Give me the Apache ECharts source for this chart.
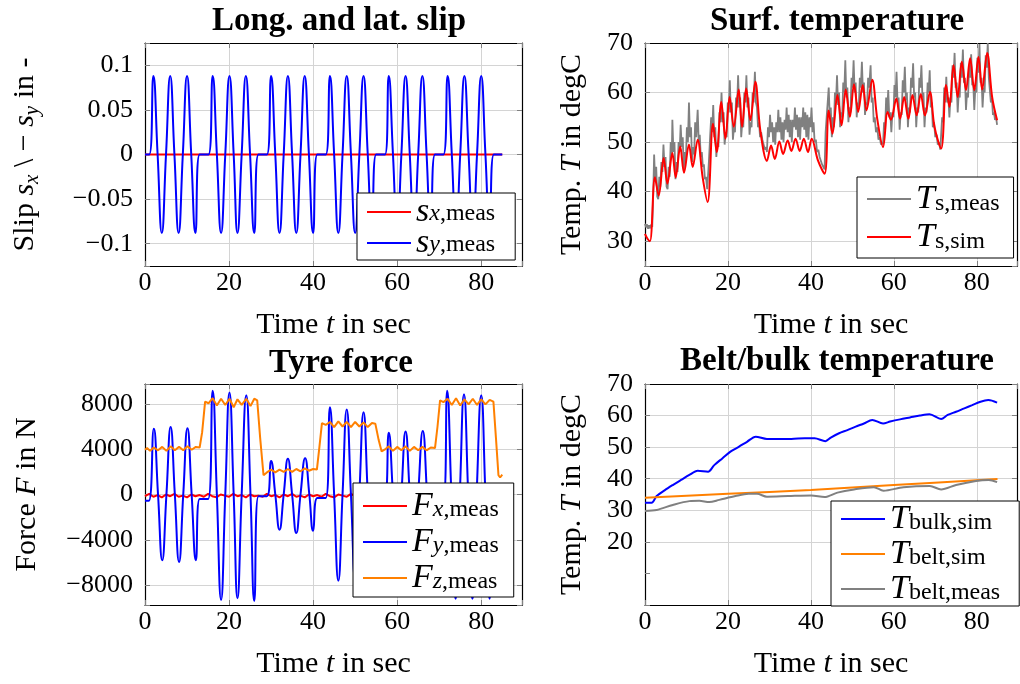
<!DOCTYPE html>
<html><head><meta charset="utf-8">
<script src="https://cdn.jsdelivr.net/npm/echarts@6/dist/echarts.min.js"></script>
<style>html,body{margin:0;padding:0;background:#fff}#c{width:1020px;height:684px}</style>
</head><body><div id="c"></div>
<script>
// ---------- data ----------
const titles = ['Long. and lat. slip', 'Surf. temperature', 'Tyre force', 'Belt/bulk temperature'];
const xTickLabels = [0, 20, 40, 60, 80];

// Panel 1: slip
const sxMeas = [[0,0],[85,0]];
const syMeas = [[0,0],[1.0,0],[2.0,0.088],[3.0,0],[4.0,-0.088],[5.0,0],[6.0,0.088],[7.0,0],[8.0,-0.088],[9.0,0],[10.0,0.088],[11.0,0],[12.0,-0.088],[13.0,0],[15.1,0],
[16.1,0.088],[17.1,0],[18.1,-0.088],[19.1,0],[20.1,0.088],[21.1,0],[22.0,-0.088],[23.0,0],[24.0,0.088],[25.0,0],[26.0,-0.088],[27.0,0],[29.0,0],
[30.0,0.088],[31.0,0],[32.0,-0.088],[33.0,0],[34.0,0.088],[35.0,0],[36.0,-0.088],[37.0,0],[38.0,0.088],[39.0,0],[40.0,-0.088],[41.0,0],[43.0,0],
[44.0,0.088],[45.0,0],[46.0,-0.088],[47.0,0],[48.0,0.088],[49.0,0],[50.0,-0.088],[51.0,0],[52.0,0.088],[53.0,0],[54.0,-0.088],[55.0,0],[57.1,0],
[58.0,0.088],[59.0,0],[60.0,-0.088],[61.0,0],[62.0,0.088],[63.0,0],[64.0,-0.088],[65.0,0],[66.0,0.088],[67.0,0],[68.0,-0.088],[69.0,0],[71.0,0],
[72.0,0.088],[73.0,0],[74.0,-0.088],[75.0,0],[76.0,0.088],[77.0,0],[78.0,-0.088],[79.0,0],[80.0,0.088],[81.0,0],[82.0,-0.088],[83.0,0],[85.0,0]];

// Panel 2: surface temperature
const tsMeas = [[0,33.5],[0.25,32.8],[0.5,33.4],[0.75,32.5],[1.0,33.2],[1.25,32.6],[1.5,33.4],[1.75,32.9],
[2.0,40],[2.2,47.5],[2.45,42],[2.7,45],[2.95,39],[3.2,38.5],[3.45,43],[3.7,41],[3.95,46],[4.2,44],[4.45,49.5],[4.7,45],[4.95,47],[5.2,41],[5.45,40.5],[5.7,45],[5.95,43],[6.2,50],[6.45,47],[6.6,54.5],[6.85,48],[7.1,50],[7.35,42.5],[7.6,46],[7.85,44],[8.1,50],[8.35,48],[8.6,53.5],[8.85,49],[9.1,51],[9.35,44.5],[9.6,48],[9.85,46],[10.1,53],[10.35,50],[10.6,58],[10.85,51],[11.1,53],[11.35,46],[11.6,49],[11.85,47.5],[12.1,54],[12.35,51],[12.7,56.5],[12.95,50],[13.2,51.5],[13.45,47],[13.7,48],[13.95,45],[14.2,45.5],[14.45,42.5],[14.7,43],[15.0,40.5],
[15.4,46],[15.7,51],[15.95,55],[16.2,52],[16.45,57.5],[16.7,51],[16.95,53],[17.2,47],[17.45,50],[17.7,49],[17.95,56],[18.2,54],[18.45,60],[18.7,54],[18.95,56],[19.2,49.5],[19.45,52],[19.7,51],[19.95,58],[20.2,56],[20.45,62.5],[20.7,56],[20.95,58],[21.2,50.5],[21.45,53],[21.7,52],[21.95,59],[22.2,57],[22.45,63.5],[22.7,57],[22.95,59],[23.2,51],[23.45,54],[23.7,53],[23.95,60],[24.2,58],[24.45,63.5],[24.7,57],[24.95,59],[25.2,51.5],[25.45,54],[25.7,53],[25.95,60],[26.2,58],[26.5,64.2],[26.75,58],[27.0,57],[27.25,53],[27.5,54],[27.75,51],[28.0,52],[28.3,50.5],[28.6,50.5],[28.9,48.5],[29.2,49],[29.4,48],
[29.65,53],[29.9,51],[30.15,55.5],[30.4,52],[30.65,54],[30.9,50],[31.15,53],[31.4,49.5],[31.65,54],[31.9,52],[32.15,56.5],[32.4,52],[32.65,55],[32.9,50.5],[33.15,54],[33.4,50],[33.65,54.5],[33.9,52.5],[34.15,57],[34.4,52],[34.65,55.5],[34.9,51],[35.15,54.5],[35.4,50],[35.65,54.5],[35.9,53],[36.15,57],[36.4,52.5],[36.65,55.5],[36.9,51],[37.15,55],[37.4,50.5],[37.65,55],[37.9,53],[38.15,57],[38.4,52.5],[38.65,56],[38.9,51],[39.15,55.5],[39.4,50.5],[39.65,55],[39.9,53],[40.15,57],[40.4,52],[40.65,54],[40.9,50],[41.2,50.5],[41.5,48],[41.8,48.5],[42.1,47],[42.4,47],[42.7,45.5],[43.0,45.5],[43.3,44.5],
[43.55,52],[43.8,55],[44.05,58],[44.3,61],[44.55,55],[44.8,57],[45.05,51],[45.3,55],[45.55,53],[45.8,60],[46.05,58],[46.3,63.5],[46.55,57.5],[46.8,60],[47.05,53],[47.3,56],[47.55,55],[47.8,62],[48.05,60],[48.3,66.5],[48.55,59],[48.8,61],[49.05,54],[49.3,57],[49.55,56],[49.8,63],[50.05,61],[50.3,66.5],[50.55,60],[50.8,62],[51.05,55],[51.3,58],[51.55,57],[51.8,63],[52.05,61],[52.3,66.2],[52.55,60],[52.8,62],[53.05,55.5],[53.3,58],[53.55,57.5],[53.8,63],[54.05,61],[54.4,65.5],[54.65,58],[54.9,59],[55.15,54],[55.4,55],[55.7,52],[56.0,53],[56.3,50.5],[56.6,51],[56.9,49.5],[57.2,50],[57.4,49.5],
[57.65,54],[57.9,52.5],[58.15,59],[58.4,56],[58.65,60.5],[58.9,55],[59.15,56],[59.4,52],[59.65,56],[59.9,55],[60.15,61.5],[60.4,59],[60.65,64.2],[60.9,58],[61.15,59],[61.4,52.5],[61.65,56],[61.9,55.5],[62.15,62.5],[62.4,60],[62.65,65.2],[62.9,58.5],[63.15,60],[63.4,53],[63.65,57],[63.9,56],[64.15,63],[64.4,61],[64.65,65.9],[64.9,59],[65.15,60],[65.4,53],[65.65,57],[65.9,56],[66.15,63],[66.4,61],[66.65,65.5],[66.9,59],[67.15,60],[67.4,53],[67.65,57],[67.9,56],[68.15,62],[68.4,60],[68.65,64.5],[68.9,57],[69.15,58],[69.4,53],[69.7,54],[70.0,51],[70.3,51.5],[70.6,49.5],[70.9,50],[71.2,48.5],[71.4,48.8],
[71.65,55],[71.9,54],[72.15,61],[72.4,58],[72.65,63.2],[72.9,58],[73.15,59],[73.4,55],[73.65,59],[73.9,58],[74.15,65.5],[74.4,63],[74.65,68],[74.9,61],[75.15,62],[75.4,56],[75.65,60],[75.9,59],[76.15,66],[76.4,63],[76.65,68.7],[76.9,62],[77.15,63],[77.4,56.5],[77.65,60],[77.9,59],[78.15,65.5],[78.4,63],[78.65,67.7],[78.9,61.5],[79.15,62],[79.4,56.5],[79.65,61],[79.9,60],[80.15,67],[80.4,64],[80.65,69.8],[80.9,62],[81.15,63],[81.4,57],[81.65,61],[81.9,60],[82.15,67.5],[82.4,65],[82.65,70],[82.9,63],[83.15,63],[83.4,58],[83.65,59],[83.9,55.5],[84.15,56],[84.4,54.5],[84.65,55],[84.9,53.5]];
const tsSim = [[0,31.5],[0.6,30.5],[1.2,30],[2.4,42.9],[3.3,39.2],[4.5,46.8],[5.4,41.6],[6.6,47.8],[7.4,42.9],[8.5,49.1],[9.4,43.8],[10.6,49.5],[11.5,45],[12.7,50.5],[13.9,42.9],[15.1,37.9],[16.4,53.7],[17.3,48],[18.4,58.1],[19.4,50.7],[20.4,59.1],[21.4,53.1],[22.6,60.6],[23.4,53.1],[24.4,60.8],[25.4,54.4],[26.6,62.2],[27.8,52.4],[29.4,46.2],[30.4,49.3],[31.3,46.6],[32.4,50.1],[33.3,47.6],[34.4,50.3],[35.3,48.2],[36.3,50.7],[37.3,48.2],[38.3,50.7],[39.3,48],[40.2,50.7],[41.7,46.3],[43.3,43.6],[44.3,56.4],[45.2,51.7],[46.4,59.5],[47.4,53.4],[48.4,60.6],[49.4,55.1],[50.4,61.7],[51.4,56.1],[52.5,61.5],[53.4,56.4],[54.8,62.6],[56,54.7],[57.4,49],[58.5,56.1],[59.3,54.5],[60.6,58.8],[61.5,54.7],[62.5,59.1],[63.5,54.7],[64.5,59.5],[65.5,55.4],[66.5,59.7],[67.5,55.4],[68.7,60.1],[69.8,53.1],[71.4,48.7],[72.6,61.5],[73.4,57.1],[74.4,65.5],[75.4,59.1],[76.4,66.2],[77.4,60.5],[78.4,66.9],[79.4,60.5],[80.4,67.2],[81.3,60.6],[82.5,68],[83.7,59.1],[84.9,54.4]];

// Panel 3: tyre force
const fxMeas = [[0,-150],[1,50],[2,-200],[3,-50],[4,-250],[5,0],[6,-150],[7,50],[8,-200],[9,-100],[10,-250],[11,0],[12,-150],[13,-50],[14,-200],[15,50],[16,-150],[17,-250],[18,0],[19,-100],[20,-200],[21,50],[22,-150],[23,-50],[24,-250],[25,0],[26,-150],[27,-100],[28,-200],[29,50],[30,-150],[31,-50],[32,-250],[33,0],[34,-150],[35,50],[36,-200],[37,-100],[38,-250],[39,0],[40,-150],[41,-50],[42,-200],[43,50],[44,-150],[45,-250],[46,0],[47,-100],[48,-200],[49,50],[50,-150],[51,-50],[52,-250],[53,0],[54,-150],[55,-100],[56,-200],[57,50],[58,-150],[59,-50],[60,-250],[61,0],[62,-150],[63,50],[64,-200],[65,-100],[66,-250],[67,0],[68,-150],[69,-50],[70,-200],[71,50],[72,-150],[73,-250],[74,0],[75,-100],[76,-200],[77,50],[78,-150],[79,-50],[80,-250],[81,0],[82,-150],[83,-100],[84,-200],[85,-50]];
const fyMeas = [[0,-550],[0.9,-550],[2.1,5800],[3.1,0],[4.1,-5800],[5.1,0],[6.1,5950],[7.1,0],[8.1,-5950],[9.1,0],[10.1,5850],[11.1,0],[12.1,-5800],[13.0,-400],[15.0,-400],
[16.1,9150],[17.1,0],[18.1,-9300],[19.1,0],[20.1,9000],[21.1,0],[22.0,-9150],[23.0,0],[24.1,8750],[25.1,0],[26.0,-9400],[27.0,-150],[29.0,-150],
[30.0,2950],[31.0,0],[32.0,-3100],[33.0,0],[34.0,3150],[35.0,0],[36.0,-3400],[37.0,0],[38.1,3200],[39.1,0],[40.0,-3200],[41.0,-300],[43.0,-300],
[44.0,7700],[45.0,0],[46.0,-7600],[47.0,0],[48.0,7500],[49.0,0],[50.0,-7500],[51.0,0],[52.0,7250],[53.0,0],[54.0,-7400],[55.0,-300],[57.0,-300],
[58.0,5450],[59.0,0],[60.0,-5500],[61.0,0],[62.0,5550],[63.0,0],[64.0,-5550],[65.0,0],[66.1,5600],[67.1,0],[68.0,-5600],[69.0,-300],[71.0,-300],
[71.9,9150],[72.9,0],[73.9,-9200],[74.9,0],[75.9,8850],[76.9,0],[77.9,-9200],[78.9,0],[80.0,8750],[81.0,0],[82.0,-9200],[83.0,-200],[85.0,-200]];
const fzMeas = [[0,3950],[0.5,4100],[1.2,3850],[2.1,4150],[3.1,3900],[4.1,4200],[5.1,3850],[6.1,4250],[7.1,3900],[8.1,4200],[9.1,3900],[10.1,4250],[11.1,3950],[12.1,4200],[13.0,4150],[13.6,5500],[14.3,8200],[15.1,8050],[16.1,8500],[17.1,7850],[18.1,8450],[19.1,7900],[20.1,8450],[21.1,7700],[22.0,8400],[23.0,7900],[24.1,8450],[25.1,7800],[26.0,8450],[26.7,8300],[27.4,5000],[28.2,1700],[29.0,1950],[30.0,2200],[31.0,1950],[32.0,2200],[33.0,2000],[34.0,2250],[35.0,2000],[36.0,2250],[37.0,2050],[38.0,2300],[39.0,2100],[40.0,2250],[40.9,2200],[41.5,4200],[42.1,6300],[43.0,6150],[44.0,6400],[45.0,5950],[46.0,6450],[47.0,6000],[48.0,6400],[49.0,5950],[50.0,6400],[51.0,6000],[52.0,6350],[53.0,5950],[54.0,6300],[54.8,6250],[55.6,4800],[56.3,3800],[57.0,3950],[58.0,4250],[59.0,3850],[60.0,4200],[61.0,3900],[62.0,4250],[63.0,3850],[64.0,4200],[65.0,3900],[66.0,4200],[67.0,3900],[68.0,4150],[69.0,4100],[69.6,6000],[70.2,8300],[71.0,8150],[72.0,8450],[73.0,7900],[74.0,8500],[75.0,7850],[76.0,8400],[77.0,7950],[78.0,8450],[79.0,7900],[80.0,8400],[81.0,7950],[82.0,8350],[82.9,8200],[83.5,5000],[84.1,1700],[84.5,1500],[85.0,1750]];

// Panel 4: belt / bulk temperature
const tBulkSim = [[0,32.4],[1.6,32.4],[2.8,34.5],[4.8,36.4],[6.7,38.0],[8.7,39.6],[10.7,41.2],[12.7,42.5],[15.2,42.2],[16.7,44.3],[18.7,46.5],[20.6,48.6],[22.6,50.1],[24.6,51.7],[26.7,53.3],[29.4,52.6],[32.1,52.6],[35.3,52.6],[38.5,52.8],[40.9,52.8],[43.5,51.9],[44.8,53.0],[46.8,54.4],[48.8,55.4],[50.8,56.5],[52.8,57.5],[54.8,58.6],[57.4,57.5],[59.1,58.1],[61.5,58.8],[63.9,59.4],[66.3,60.0],[68.6,60.4],[71.4,58.9],[73.0,60.2],[75.0,61.2],[77.0,62.3],[78.9,63.3],[80.9,64.4],[82.8,64.9],[84.9,64.1]];
const tBeltSim = [[0,34.0],[20,35.2],[40,36.4],[60,38.0],[85,39.9]];
const tBeltMeas = [[0,29.8],[2.8,30.1],[6.7,31.7],[10.7,32.9],[13.1,33.0],[15.5,32.6],[17.9,33.3],[21.8,34.5],[25,35.2],[27,35.2],[29.4,34.3],[34.5,34.5],[40.1,34.7],[43.3,34.2],[46.4,35.6],[50.4,36.6],[55.2,37.3],[57.5,36.2],[62.3,37.3],[68.7,37.7],[71.4,36.6],[75,38.0],[79.8,39.3],[82.9,39.6],[84.9,38.9]];

// ---------- styling ----------
const FF = 'Liberation Serif';
const GRIDC = '#d4d4d4', TICKC = '#808080';
const RED = '#ff0000', BLUE = '#0000ff', ORANGE = '#ff8000', GRAY = '#808080';
const XMAX = 89.7;
const grids = [
  {left:145, top:43, width:377, height:223},
  {left:645, top:43, width:377, height:223},
  {left:145, top:384, width:377, height:221},
  {left:645, top:384, width:377, height:221}
];
const richName = {
  i:{fontFamily:FF,fontStyle:'italic',fontSize:30,lineHeight:36,color:'#000'},
  si:{fontFamily:FF,fontStyle:'italic',fontSize:21,lineHeight:22,verticalAlign:'bottom',color:'#000'}
};
const nameStyle = {fontFamily:FF,fontSize:30,lineHeight:36,color:'#000',rich:richName};
function fmtNum(v){ const r = Math.round(v*1000)/1000; return String(r).replace('-', '\u2212'); }
function labelsAt(list){ return v => { for (const t of list) if (Math.abs(v-t) < 1e-9) return fmtNum(t); return ''; }; }

const xAxes = [], yAxes = [];
const yCfg = [
  {min:-0.125, max:0.125, step:0.05, labels:[-0.1,-0.05,0,0.05,0.1], name:'Slip {i|s}{si|x} \\ \u2212 {i|s}{si|y} in -', gap:102},
  {min:25, max:70, step:10, labels:[30,40,50,60,70], name:'Temp. {i|T} in degC', gap:55},
  {min:-9750, max:9750, step:4000, labels:[-8000,-4000,0,4000,8000], name:'Force {i|F} in N', gap:100},
  {min:0, max:70, step:10, labels:[20,30,40,50,60,70], name:'Temp. {i|T} in degC', gap:55,
   split:['rgba(0,0,0,0)','rgba(0,0,0,0)',GRIDC,GRIDC,GRIDC,GRIDC,GRIDC,GRIDC]}
];
grids.forEach((g, gi) => {
  const line = {show:true,onZero:false,lineStyle:{color:'#000',width:1.2}};
  const tick = {show:true,inside:true,length:5,lineStyle:{color:TICKC}};
  xAxes.push({type:'value',gridIndex:gi,min:0,max:XMAX,minInterval:20,maxInterval:20,
    axisLine:line,axisTick:tick,splitLine:{show:true,lineStyle:{color:GRIDC,width:1}},
    axisLabel:{fontFamily:FF,fontSize:26,color:'#000',margin:4,formatter:labelsAt(xTickLabels)},
    name:'Time {i|t} in sec',nameLocation:'middle',nameGap:41,nameTextStyle:nameStyle});
  xAxes.push({type:'value',gridIndex:gi,position:'top',min:0,max:XMAX,minInterval:20,maxInterval:20,
    axisLine:line,axisTick:tick,splitLine:{show:false},axisLabel:{show:false}});
  const c = yCfg[gi];
  yAxes.push({type:'value',gridIndex:gi,min:c.min,max:c.max,minInterval:c.step,maxInterval:c.step,
    axisLine:line,axisTick:tick,splitLine:{show:true,lineStyle:{color:c.split||GRIDC,width:1}},
    axisLabel:{fontFamily:FF,fontSize:26,color:'#000',margin:12,formatter:labelsAt(c.labels)},
    name:c.name,nameLocation:'middle',nameGap:c.gap,nameRotate:90,nameTextStyle:nameStyle});
  yAxes.push({type:'value',gridIndex:gi,position:'right',min:c.min,max:c.max,minInterval:c.step,maxInterval:c.step,
    axisLine:line,axisTick:tick,splitLine:{show:false},axisLabel:{show:false}});
});

function ser(name, gi, data, color, smooth, w){
  return {type:'line',name:name,xAxisIndex:2*gi,yAxisIndex:2*gi,data:data,symbol:'none',showSymbol:false,
    smooth:smooth,lineStyle:{color:color,width:w||1.8},itemStyle:{color:color},emphasis:{disabled:true},animation:false};
}
const series = [
  ser('sx',0,sxMeas,RED,false,2), ser('sy',0,syMeas,BLUE,0.5,2),
  ser('Tsm',1,tsMeas,GRAY,false,1.8), ser('Tss',1,tsSim,RED,0.35,2),
  ser('Fx',2,fxMeas,RED,false,2), ser('Fy',2,fyMeas,BLUE,0.5,2), ser('Fz',2,fzMeas,ORANGE,false,2),
  ser('Tbulk',3,tBulkSim,BLUE,0.3,2), ser('Tbelt',3,tBeltSim,ORANGE,0.3,2), ser('Tbeltm',3,tBeltMeas,GRAY,0.3,2)
];

const LEG = {
  sx:'{m|s}{si|x}{s|,meas}', sy:'{m|s}{si|y}{s|,meas}',
  Tsm:'{m|T}{s|s,meas}', Tss:'{m|T}{s|s,sim}',
  Fx:'{m|F}{si|x}{s|,meas}', Fy:'{m|F}{si|y}{s|,meas}', Fz:'{m|F}{si|z}{s|,meas}',
  Tbulk:'{m|T}{s|bulk,sim}', Tbelt:'{m|T}{s|belt,sim}', Tbeltm:'{m|T}{s|belt,meas}'
};
function legRich(lh){ return {
  m:{fontFamily:FF,fontStyle:'italic',fontSize:34,lineHeight:lh,color:'#000'},
  s:{fontFamily:FF,fontSize:24,lineHeight:lh-10,verticalAlign:'bottom',color:'#000'},
  si:{fontFamily:FF,fontStyle:'italic',fontSize:24,lineHeight:lh-10,verticalAlign:'bottom',color:'#000'}
}; }
function leg(data, left, top, lh, gap, pad){
  return {data:data,left:left,top:top,orient:'vertical',icon:'rect',itemWidth:44,itemHeight:2,itemGap:gap,itemTextGap:6,
    padding:pad,backgroundColor:'#fff',borderColor:'#000',borderWidth:1,borderRadius:0,selectedMode:false,
    formatter:n=>LEG[n],textStyle:{fontFamily:FF,fontSize:24,lineHeight:lh,color:'#000',rich:legRich(lh)}};
}
const legends = [
  leg(['sx','sy'],357,193,27,-3,[2,20,0,10]),
  leg(['Tsm','Tss'],857,177,34,4,[5,14,4,10]),
  leg(['Fx','Fy','Fz'],353,483,32,2,[6,15,2,10]),
  leg(['Tbulk','Tbelt','Tbeltm'],831,501,31,1,[1,19,0,10])
];
const titleCenters = [[334,0],[832,0],[336,342],[832,340]];
const titleOpts = titles.map((t,i)=>({text:t,left:titleCenters[i][0],top:titleCenters[i][1],textAlign:'center',
  textStyle:{fontFamily:FF,fontWeight:'bold',fontSize:33,color:'#000'}}));

const chart = echarts.init(document.getElementById('c'), null, {renderer:'canvas'});
chart.setOption({animation:false,backgroundColor:'#fff',title:titleOpts,grid:grids,xAxis:xAxes,yAxis:yAxes,legend:legends,series:series});
</script>
</body></html>
